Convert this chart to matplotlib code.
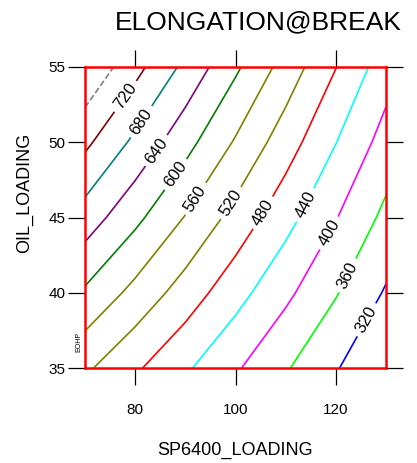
import numpy as np
import matplotlib
matplotlib.use("Agg")
import matplotlib.pyplot as plt

plt.rcParams['font.family'] = ['Liberation Sans', 'DejaVu Sans']

# Grid
sp6400 = [70, 80, 90, 100, 110, 120, 130]
oil = [35, 40, 45, 50, 55]
elong = [
    [527, 486, 446, 405, 364, 323, 283],
    [594, 548, 502, 455, 409, 363, 316],
    [662, 610, 558, 506, 454, 402, 350],
    [729, 671, 614, 556, 499, 441, 384],
    [796, 733, 670, 607, 544, 481, 418],
]
levels = [320, 360, 400, 440, 480, 520, 560, 600, 640, 680, 720, 760]
level_colors = ['#0000ff', '#00ff00', '#ff00ff', '#00ffff', '#ff0000', '#808000',
                '#808000', '#008000', '#800080', '#008080', '#800000', '#808080']
level_styles = ['solid'] * 11 + ['dashed']
label_levels = [320, 360, 400, 440, 480, 520, 560, 600, 640, 680, 720]
label_pos = [(127.2, 38.0), (122.0, 41.2), (117.4, 44.2), (112.9, 46.0),
             (104.5, 45.5), (97.5, 46.3), (91.3, 46.4), (87.5, 48.0),
             (84.0, 49.5), (80.6, 51.5), (77.0, 53.3)]

fig = plt.figure(figsize=(4.17, 4.63), dpi=100)
ax = fig.add_axes([85/417, 95/463, 301/417, 301/463])

X, Y = np.meshgrid(sp6400, oil)
Z = np.array(elong, dtype=float)
cs = ax.contour(X, Y, Z, levels=levels, colors=level_colors,
                linestyles=level_styles, linewidths=1.2)
ax.clabel(cs, levels=label_levels, manual=label_pos, inline=True,
          fontsize=12, colors='black', fmt='%d', inline_spacing=5)

ax.set_xlim(70, 130)
ax.set_ylim(35, 55)
ax.set_xticks([80, 100, 120])
ax.set_yticks([35, 40, 45, 50, 55])
ax.tick_params(axis='both', which='both', direction='out', length=12, width=0.9,
               color='black', labelsize=11, top=True, right=True)
ax.tick_params(axis='x', pad=13)
ax.tick_params(axis='y', pad=2)
for s in ax.spines.values():
    s.set_color('red')
    s.set_linewidth(1.8)

ax.set_xlabel('SP6400_LOADING', fontsize=13, labelpad=18)
fig.text(25/417, 1 - 193/463, 'OIL_LOADING', rotation=90, fontsize=13,
         ha='center', va='center')
fig.text(79/417, 1 - 342/463, 'EOHP', rotation=90, fontsize=5,
         ha='center', va='center')
fig.text(402/417, 1 - 22/463, 'ELONGATION@BREAK', fontsize=19,
         ha='right', va='center')

fig.savefig('out.png', dpi=100)
